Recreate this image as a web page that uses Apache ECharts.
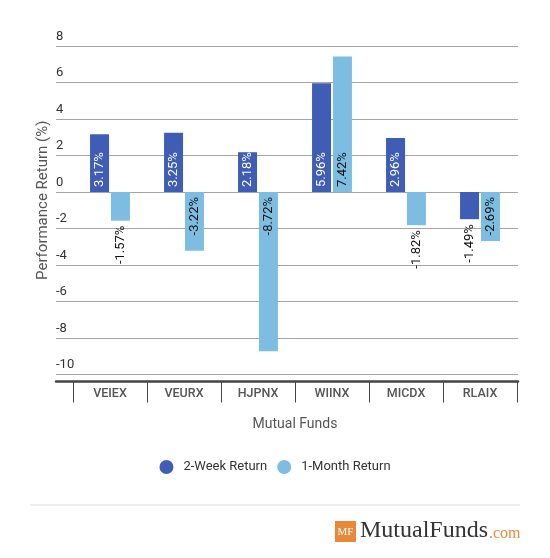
<!DOCTYPE html>
<html>
<head>
<meta charset="utf-8">
<script src="https://cdn.jsdelivr.net/npm/echarts@6/dist/echarts.min.js"></script>
<style>
html,body{margin:0;padding:0;background:#fff;}
#chart{width:550px;height:558px;}
</style>
</head>
<body>
<div id="chart"></div>
<script>
const funds = ['VEIEX', 'VEURX', 'HJPNX', 'WIINX', 'MICDX', 'RLAIX'];
const twoWeek = [3.17, 3.25, 2.18, 5.96, 2.96, -1.49];
const oneMonth = [-1.57, -3.22, -8.72, 7.42, -1.82, -2.69];
const seriesNames = ['2-Week Return', '1-Month Return'];
const yMin = -10, yMax = 8, yStep = 2;

const DARK = '#3f5db4';
const LIGHT = '#7dbde1';
const FONT = 'Roboto';

function labelFor(v, insideColor) {
  const txt = v.toFixed(2) + '%';
  const base = { show: true, rotate: 90, fontSize: 13, fontFamily: FONT, verticalAlign: 'middle', distance: 5, formatter: txt };
  if (v >= 0) {
    return Object.assign(base, { position: 'insideBottom', align: 'left', color: insideColor });
  }
  if (Math.abs(v) >= 2) {
    return Object.assign(base, { position: 'insideTop', align: 'right', color: insideColor });
  }
  return Object.assign(base, { position: 'bottom', align: 'right', color: '#111' });
}

function makeData(arr, insideColor) {
  return arr.map(v => ({ value: v, label: labelFor(v, insideColor) }));
}

const chart = echarts.init(document.getElementById('chart'), null, { renderer: 'canvas' });
const gridTop = 46, gridBottom = 558 - 374.5;
chart.setOption({
  animation: false,
  backgroundColor: '#fff',
  textStyle: { fontFamily: FONT },
  grid: [
    { left: 56, right: 32, top: gridTop, bottom: gridBottom },
    { left: 73, right: 33, top: gridTop, bottom: gridBottom }
  ],
  xAxis: [
    {
      gridIndex: 0, type: 'category', data: [''], offset: 7, position: 'bottom',
      axisLine: { show: true, onZero: false, lineStyle: { color: '#444', width: 2.5 } },
      axisTick: { show: false }, axisLabel: { show: false }, splitLine: { show: false }
    },
    {
      gridIndex: 1, type: 'category', data: funds, offset: 7, position: 'bottom',
      axisLine: { show: false, onZero: false },
      axisTick: { show: true, length: 21, lineStyle: { color: '#444', width: 1 } },
      axisLabel: { color: '#555', fontSize: 12.5, fontWeight: 500, fontFamily: FONT, margin: 6 },
      name: 'Mutual Funds', nameLocation: 'middle', nameGap: 36,
      nameTextStyle: { color: '#555', fontSize: 14, fontFamily: FONT }
    }
  ],
  yAxis: [
    {
      gridIndex: 0, type: 'value', min: yMin, max: yMax, interval: yStep,
      axisLine: { show: false }, axisTick: { show: false },
      splitLine: { show: true, lineStyle: { color: '#a5a5a5', width: 1 } },
      axisLabel: {
        inside: true, margin: 0, color: '#333', fontSize: 13, fontFamily: FONT,
        verticalAlign: 'bottom', align: 'left', padding: [0, 0, 3, 0]
      },
      name: 'Performance Return (%)', nameLocation: 'middle', nameGap: 5, nameMoveOverlap: false,
      nameTextStyle: { color: '#555', fontSize: 15, fontFamily: FONT, padding: [0, 0, 0, 20] }
    },
    {
      gridIndex: 1, type: 'value', min: yMin, max: yMax, interval: yStep,
      show: false, splitLine: { show: false }
    }
  ],
  legend: {
    data: seriesNames, top: 455, left: 'center', icon: 'circle',
    itemWidth: 14, itemHeight: 14, itemGap: 10,
    textStyle: { color: '#333', fontSize: 13, fontFamily: FONT, padding: [0, 0, 0, 5] }
  },
  series: [
    {
      name: seriesNames[0], type: 'bar', xAxisIndex: 1, yAxisIndex: 1,
      data: makeData(twoWeek, '#fff'), barWidth: 19, barGap: '10%',
      itemStyle: { color: DARK }
    },
    {
      name: seriesNames[1], type: 'bar', xAxisIndex: 1, yAxisIndex: 1,
      data: makeData(oneMonth, '#111'), barWidth: 19, barGap: '10%',
      itemStyle: { color: LIGHT }
    }
  ],
  graphic: [
    { type: 'line', shape: { x1: 30, y1: 505, x2: 520, y2: 505 }, style: { stroke: '#ddd', lineWidth: 1 } },
    { type: 'rect', shape: { x: 335, y: 521, width: 21, height: 21 }, style: { fill: '#e8893a' } },
    { type: 'text', x: 345.5, y: 532, style: { text: 'MF', fill: '#fff', font: '11px "Liberation Serif"', align: 'center', verticalAlign: 'middle' } },
    { type: 'text', x: 360, y: 531, style: { text: 'MutualFunds', fill: '#333', font: '24px "Liberation Serif"', align: 'left', verticalAlign: 'middle' } },
    { type: 'text', x: 489, y: 534, style: { text: '.com', fill: '#e8893a', font: '16px "Liberation Serif"', align: 'left', verticalAlign: 'middle' } }
  ]
});
</script>
</body>
</html>
